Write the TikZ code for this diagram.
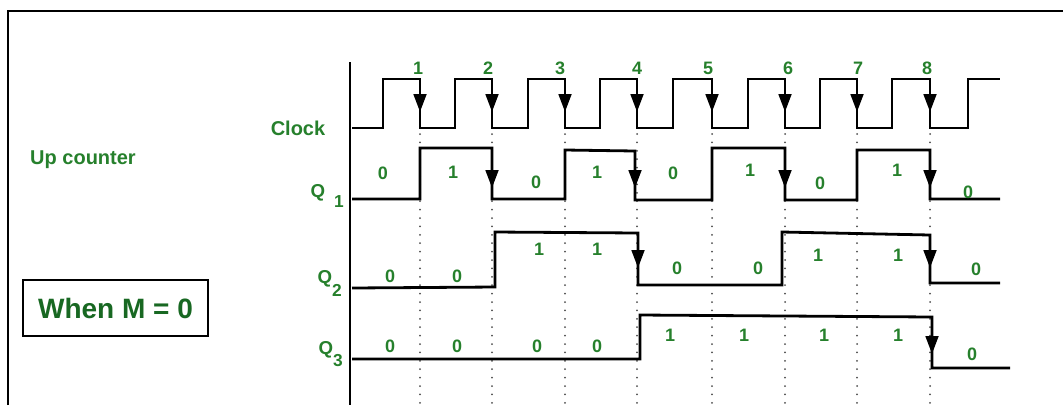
\documentclass[tikz,border=0pt]{standalone}
\usepackage{fontspec}
\setmainfont{Liberation Sans}
\usetikzlibrary{arrows.meta}
\definecolor{sigGreen}{RGB}{38,128,44}
\definecolor{boxGreen}{RGB}{24,104,34}

\begin{document}
\begin{tikzpicture}[x=0.75pt, y=-0.75pt, line width=2.1pt, line join=miter,
    lbl/.style={text=sigGreen, font=\bfseries\fontsize{13.5}{13.5}\selectfont, inner sep=0pt},
    title/.style={text=sigGreen, font=\bfseries\fontsize{15}{15}\selectfont, inner sep=0pt},
    sub/.style={text=sigGreen, font=\bfseries\fontsize{13}{13}\selectfont, inner sep=0pt},
    edge/.style={-{Triangle[width=9.5pt,length=13.5pt]}},
    tick/.style={line width=1.5pt, line cap=round, dash pattern=on 0pt off 6.3pt, black!70}]

    \useasboundingbox (0,0) rectangle (1063,405);

    % Frame
    \draw[line width=1.4pt] (8,405) -- (8,11) -- (1063,11);

    % Left side labels
    \node[title] (upc) at (83,160) {Up counter};
    \node[draw, line width=1.2pt, minimum width=138.75pt, minimum height=42pt,
          text=boxGreen, font=\bfseries\fontsize{21}{21}\selectfont] (mode) at (115.5,308) {When M = 0};

    % Signal names
    \node[title] (clk) at (298,128) {Clock};
    \node[lbl, font=\bfseries\fontsize{14}{14}\selectfont] (qa) at (318,193) {Q};
    \node[sub] (qasub) at (339,202) {1};
    \node[lbl, font=\bfseries\fontsize{14}{14}\selectfont] (qb) at (325,279) {Q};
    \node[sub] (qbsub) at (337,290) {2};
    \node[lbl, font=\bfseries\fontsize{14}{14}\selectfont] (qc) at (326,350) {Q};
    \node[sub] (qcsub) at (338,361) {3};

    % Time axis
    \draw (350,62) -- (350,405);

    % Dotted lines at the falling edges
    \foreach \f in {420,492,565,637,712,785,857,930}
        \draw[tick] (\f,134) -- (\f,405);

    % Clock
    \draw (352,128) foreach \r/\f in {383/420,455/492,528/565,600/637,673/712,748/785,820/857,892/930}
        { -- (\r,128) -- (\r,79) -- (\f,79) -- (\f,128) } -- (968,128) -- (968,79) -- (1000,79);
    \foreach \f/\x [count=\i] in {420/418,492/488,565/560,637/637,712/708,785/788,857/858,930/927} {
        \draw[edge] (\f,79) -- (\f,112);
        \node[lbl] (pulse\i) at (\x,68) {\i};
    }

    % Q1
    \draw (352,199) -- (420,199) -- (420,148) -- (492,148) -- (492,199) -- (565,199) -- (565,150)
        -- (635,151) -- (635,200) -- (712,200) -- (712,148) -- (785,148) -- (785,200) -- (857,200)
        -- (857,150) -- (930,150) -- (930,199) -- (1000,199);
    \foreach \x/\y in {492/148,635/151,785/148,930/150}
        \draw[edge] (\x,\y) -- (\x,188);
    \foreach \x/\y/\v [count=\i] in {383/173/0,453/172/1,536/182/0,597/172/1,673/173/0,
                                     750/170/1,820/183/0,897/170/1,968/192/0}
        \node[lbl] (qa\i) at (\x,\y) {\v};

    % Q2
    \draw (352,288) -- (495,287) -- (495,232) -- (638,233) -- (638,285) -- (782,285)
        -- (782,232) -- (930,235) -- (930,283) -- (1000,283);
    \foreach \x/\y in {638/233,930/235}
        \draw[edge] (\x,\y) -- (\x,268);
    \foreach \x/\y/\v [count=\i] in {390/276/0,457/276/0,539/249/1,597/249/1,677/268/0,
                                     758/268/0,818/255/1,898/255/1,976/269/0}
        \node[lbl] (qb\i) at (\x,\y) {\v};

    % Q3
    \draw (352,359) -- (640,359) -- (640,315) -- (932,317) -- (932,368) -- (1010,368);
    \draw[edge] (932,317) -- (932,354);
    \foreach \x/\y/\v [count=\i] in {390/346/0,457/346/0,537/346/0,597/346/0,670/335/1,
                                     744/335/1,824/335/1,898/335/1,972/354/0}
        \node[lbl] (qc\i) at (\x,\y) {\v};
\end{tikzpicture}
\end{document}
